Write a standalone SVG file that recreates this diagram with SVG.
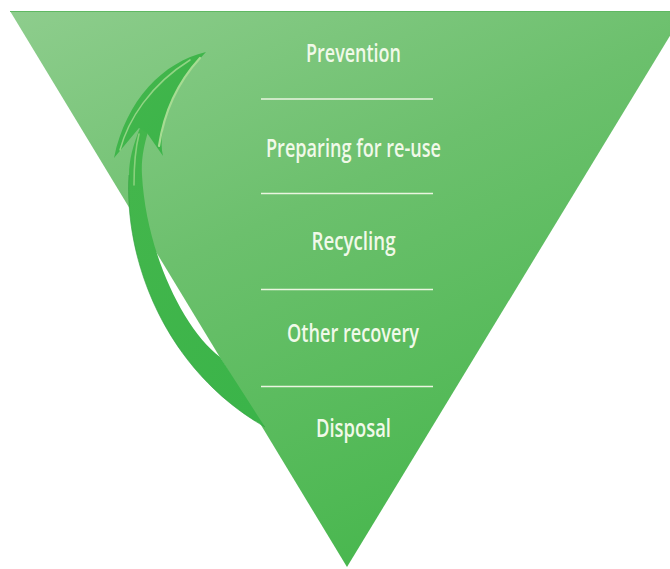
<svg xmlns="http://www.w3.org/2000/svg" width="670" height="569" viewBox="0 0 670 569">
  <defs>
    <linearGradient id="triGrad" x1="0" y1="0" x2="0.55" y2="1">
      <stop offset="0" stop-color="#8ecd8d"/>
      <stop offset="0.45" stop-color="#6cc06d"/>
      <stop offset="1" stop-color="#48b74e"/>
    </linearGradient>
    <linearGradient id="arrowGrad" x1="0" y1="0" x2="1" y2="1">
      <stop offset="0" stop-color="#44b64c"/>
      <stop offset="1" stop-color="#3ab449"/>
    </linearGradient>
    <style>
      .lbl { font-family: "Open Sans", "Liberation Sans", sans-serif; font-size: 25px; font-weight: 600; fill: #f1f9e9; text-anchor: middle; }
      .sep { stroke: #eaf5e0; stroke-width: 1.6; fill: none; }
      .arrow { fill: url(#arrowGrad); }
      .hl { fill: none; stroke: #a6dc92; stroke-linecap: round; }
    </style>
  </defs>

  <rect width="670" height="569" fill="#ffffff"/>

  <g id="pyramid">
    <polygon points="10,11 685,11 347,567" fill="url(#triGrad)"/>
    <line x1="10" y1="11.5" x2="670" y2="11.5" stroke="#5fb862" stroke-width="1"/>
  </g>

  <g id="connectors">
    <g id="cycle-arrow">
      <path class="arrow" d="M 140,128 C 133,145 129,160 129,175 C 124,260 165,370 265,427 L 220,357 C 182,328 146,250 142,175 C 141,160 144,145 148,132 Z"/>
      <path class="arrow" d="M 206,52 C 163,62 126,100 114,158 L 139,128 L 147,133 L 163,156 C 157,128 172,88 206,52 Z"/>
      <path class="hl" stroke-width="2.2" d="M 200,58 C 178,82 164,112 159,146"/>
      <path class="hl" stroke-width="1.5" opacity="0.8" d="M 120,150 C 128,120 150,85 190,60"/>
      <path class="hl" stroke-width="1.6" opacity="0.7" d="M 139,134 C 135,150 134,165 134,185"/>
      <path fill="none" stroke="#2f9e3e" stroke-width="1" opacity="0.6" d="M 129,175 C 124,260 165,370 265,427"/>
    </g>
  </g>

  <g id="separators">
    <line class="sep" x1="261" y1="99" x2="433" y2="99"/>
    <line class="sep" x1="261" y1="193.5" x2="433" y2="193.5"/>
    <line class="sep" x1="261" y1="289.5" x2="433" y2="289.5"/>
    <line class="sep" x1="261" y1="386.5" x2="433" y2="386.5"/>
  </g>

  <g id="node-prevention">
    <text class="lbl" x="353.5" y="62" textLength="95" lengthAdjust="spacingAndGlyphs">Prevention</text>
  </g>
  <g id="node-preparing">
    <text class="lbl" x="353.5" y="157" textLength="175" lengthAdjust="spacingAndGlyphs">Preparing for re-use</text>
  </g>
  <g id="node-recycling">
    <text class="lbl" x="353.5" y="250" textLength="84" lengthAdjust="spacingAndGlyphs">Recycling</text>
  </g>
  <g id="node-other-recovery">
    <text class="lbl" x="353" y="342" textLength="132" lengthAdjust="spacingAndGlyphs">Other recovery</text>
  </g>
  <g id="node-disposal">
    <text class="lbl" x="353.5" y="437" textLength="75" lengthAdjust="spacingAndGlyphs">Disposal</text>
  </g>
</svg>
